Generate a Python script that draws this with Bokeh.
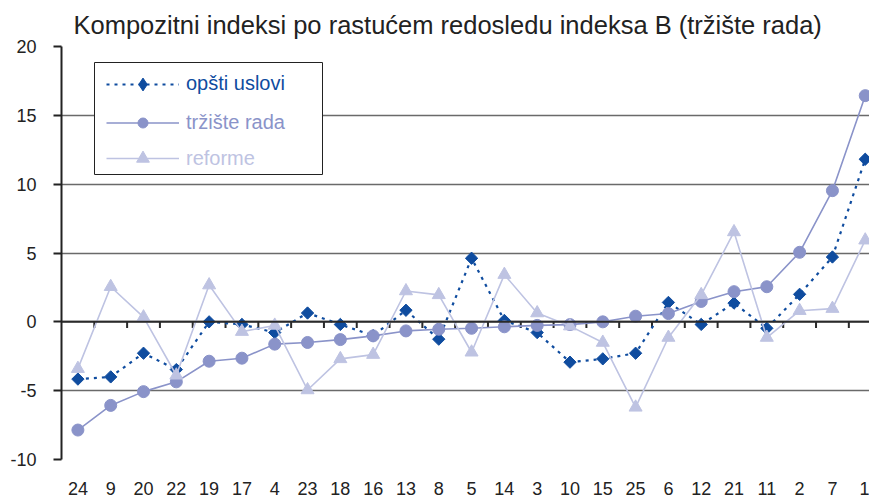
import math
from bokeh.plotting import figure
from bokeh.models import Range1d, FixedTicker, Span, Legend, LegendItem, BoxAnnotation
from bokeh.embed import file_html
from bokeh.resources import INLINE

categories = ["24", "9", "20", "22", "19", "17", "4", "23", "18", "16", "13", "8", "5",
              "14", "3", "10", "15", "25", "6", "12", "21", "11", "2", "7", "1"]
opsti_uslovi = [-4.16, -4.0, -2.28, -3.47, 0.0, -0.19, -0.78, 0.64, -0.19, -1.0, 0.84, -1.26, 4.62,
                0.1, -0.78, -2.93, -2.69, -2.28, 1.41, -0.19, 1.36, -0.47, 2.0, 4.71, 11.81]
trziste_rada = [-7.86, -6.07, -5.07, -4.36, -2.86, -2.64, -1.62, -1.5, -1.29, -1.02, -0.66, -0.54, -0.47,
                -0.36, -0.26, -0.2, 0.0, 0.41, 0.6, 1.48, 2.19, 2.55, 5.05, 9.53, 16.43]
reforme = [-3.4, 2.55, 0.34, -3.88, 2.67, -0.71, -0.26, -4.95, -2.69, -2.38, 2.24, 1.96, -2.21,
           3.43, 0.64, -0.31, -1.5, -6.21, -1.14, 1.96, 6.53, -1.14, 0.81, 0.96, 5.93]
y_ticks = [-10, -5, 0, 5, 10, 15, 20]
y_tick_labels = ["-10", "-5", "0", "5", "10", "15", "20"]
series_names = ["opšti uslovi", "tržište rada", "reforme"]
title_text = "Kompozitni indeksi po rastućem redosledu indeksa B (tržište rada)"

C1 = "#0F4C9F"
C2 = "#8A93C9"
C3 = "#BEC3E2"
FONT = "Liberation Sans"

xs = list(range(len(categories)))

p = figure(width=869, height=500, output_backend="svg", toolbar_location=None,
           x_range=Range1d(-0.5, 24.13), y_range=Range1d(-10, 20),
           min_border_left=61, min_border_right=0, min_border_top=43, min_border_bottom=41,
           title=title_text)
p.outline_line_color = None
p.background_fill_color = "white"
p.extra_x_ranges = {"legend_only": Range1d(-1000, -999)}

p.title.text_font = FONT
p.title.text_font_size = "25.5px"
p.title.text_font_style = "normal"
p.title.text_color = "#222222"
p.title.align = "left"
p.title.offset = 12
p.title.standoff = 16

xa = p.xaxis[0]
xa.ticker = FixedTicker(ticks=xs)
xa.major_label_overrides = {i: c for i, c in enumerate(categories)}
xa.axis_line_color = None
xa.major_tick_line_color = None
xa.minor_tick_line_color = None
xa.major_label_standoff = 16
xa.major_label_text_font = FONT
xa.major_label_text_font_size = "18px"
xa.major_label_text_color = "#222222"

ya = p.yaxis[0]
ya.ticker = FixedTicker(ticks=y_ticks)
ya.major_label_overrides = {t: s for t, s in zip(y_ticks, y_tick_labels)}
ya.axis_line_color = "#222222"
ya.axis_line_width = 2
ya.major_tick_out = 8
ya.major_tick_in = 0
ya.major_tick_line_color = "#222222"
ya.major_tick_line_width = 2
ya.minor_tick_line_color = None
ya.major_label_standoff = 17
ya.major_label_text_font = FONT
ya.major_label_text_font_size = "18px"
ya.major_label_text_color = "#222222"

p.xgrid.visible = False
p.ygrid.ticker = FixedTicker(ticks=y_ticks)
p.ygrid.grid_line_color = "#6a6a6a"
p.ygrid.grid_line_width = 1.3

p.add_layout(Span(location=0, dimension="width", line_color="#2a2a2a", line_width=2))

bounds = [i + 0.5 for i in range(len(categories) - 1)]
p.segment(x0=bounds, y0=[0] * len(bounds), x1=bounds, y1=[-0.45] * len(bounds),
          line_color="#2a2a2a", line_width=2)

l1 = p.line(xs, opsti_uslovi, line_color=C1, line_width=2.2, line_dash="3 5")
s1 = p.scatter(xs, opsti_uslovi, marker="square", angle=math.pi / 4, size=8.7,
               fill_color=C1, line_color=C1)
l2 = p.line(xs, trziste_rada, line_color=C2, line_width=1.6)
s2 = p.scatter(xs, trziste_rada, marker="circle", size=12, fill_color=C2, line_color=C2)
l3 = p.line(xs, reforme, line_color=C3, line_width=1.6)
s3 = p.scatter(xs, reforme, marker="triangle", size=13, fill_color=C3, line_color=C3)

# legend-only diamond symbol (drawn on a range outside the view)
s1_leg = p.scatter(xs, opsti_uslovi, marker="diamond", size=13, fill_color=C1, line_color=C1,
                   x_range_name="legend_only")

box = BoxAnnotation(left=33, right=261, bottom=285, top=397,
                    left_units="screen", right_units="screen",
                    bottom_units="screen", top_units="screen",
                    fill_color="white", fill_alpha=1.0,
                    line_color="#222222", line_width=1, line_alpha=1.0)
p.add_layout(box)

specs = [
    (series_names[0], [l1, s1_leg], C1, 32, 359.5),
    (series_names[1], [l2, s2], C2, 25, 324.5),
    (series_names[2], [l3, s3], C3, 32, 285),
]
for name, rends, col, gh, yb in specs:
    lg = Legend(items=[LegendItem(label=name, renderers=rends)], location=(45, yb),
                padding=0, margin=0, border_line_color=None, background_fill_alpha=0,
                glyph_width=73, glyph_height=gh, label_height=gh, label_standoff=7,
                label_text_font=FONT, label_text_font_size="20px", label_text_color=col)
    p.add_layout(lg)

open("out.html", "w").write(file_html(p, INLINE))
